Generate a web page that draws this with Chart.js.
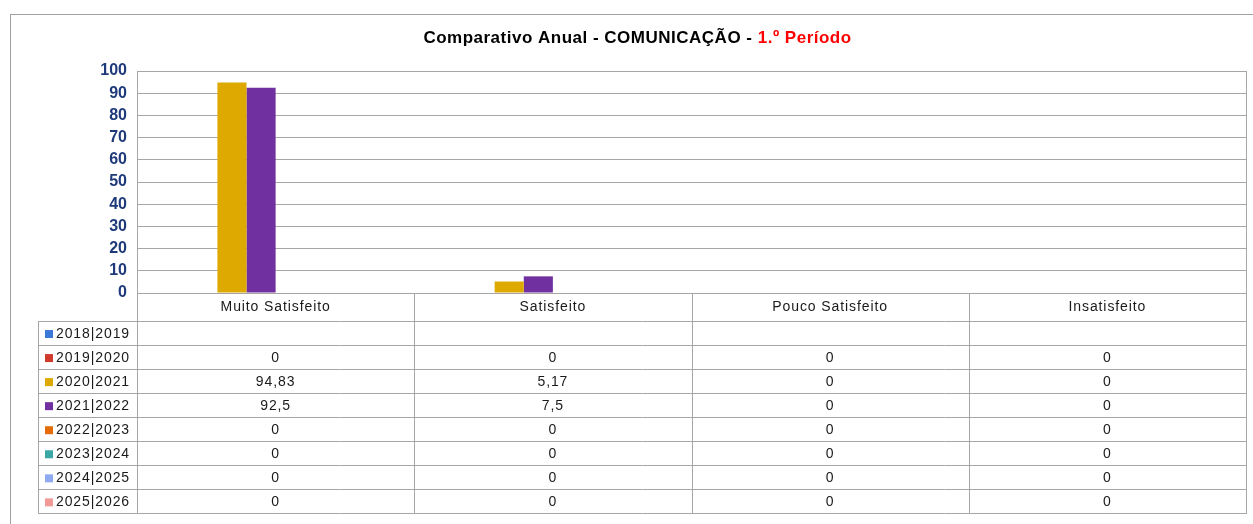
<!DOCTYPE html>
<html>
<head>
<meta charset="utf-8">
<script src="https://cdn.jsdelivr.net/npm/chart.js@4.4.0/dist/chart.umd.min.js"></script>
<style>
  html, body { margin: 0; padding: 0; background: #fff; }
  #wrap { width: 1253px; height: 524px; position: relative; }
</style>
</head>
<body>
<div id="wrap"><canvas id="mychart" width="1253" height="524"></canvas></div>
<script>
// categorias e series
const categories = ['Muito Satisfeito', 'Satisfeito', 'Pouco Satisfeito', 'Insatisfeito'];
const seriesNames = ['2018|2019', '2019|2020', '2020|2021', '2021|2022', '2022|2023', '2023|2024', '2024|2025', '2025|2026'];
const s2018 = [null, null, null, null];
const s2019 = [0, 0, 0, 0];
const s2020 = [94.83, 5.17, 0, 0];
const s2021 = [92.5, 7.5, 0, 0];
const s2022 = [0, 0, 0, 0];
const s2023 = [0, 0, 0, 0];
const s2024 = [0, 0, 0, 0];
const s2025 = [0, 0, 0, 0];
const yTicks = [0, 10, 20, 30, 40, 50, 60, 70, 80, 90, 100];

const seriesData = [s2018, s2019, s2020, s2021, s2022, s2023, s2024, s2025];
const seriesColors = ['#3c78d8', '#d0392b', '#dea900', '#7030a0', '#e36c09', '#3aa7a7', '#8faaf0', '#f09a98'];

const gridColor = '#a6a6a6';
const textFont = '"Liberation Sans", Arial, sans-serif';

function fmt(v) {
  if (v === null || v === undefined) return '';
  return String(v).replace('.', ',');
}

// desenha titulo, tabela de dados e moldura
const tablePlugin = {
  id: 'tablePlugin',
  afterDraw(chart) {
    const ctx = chart.ctx;
    const area = chart.chartArea;
    const x = chart.scales.x;
    const n = categories.length;
    const colW = (area.right - area.left) / n;
    const headTop = area.bottom;
    const rowTop = 321;
    const rowH = 24.05;
    const legendLeft = 38;
    const bottom = rowTop + rowH * seriesNames.length;

    ctx.save();
    // moldura externa
    ctx.strokeStyle = '#a0a0a0';
    ctx.lineWidth = 1;
    ctx.strokeRect(10.5, 14.5, 1300, 600);

    // titulo
    ctx.font = 'bold 17px ' + textFont;
    ctx.letterSpacing = '0.5px';
    ctx.textBaseline = 'middle';
    const t1 = 'Comparativo Anual - COMUNICAÇÃO - ';
    const t2 = '1.º Período';
    const w1 = ctx.measureText(t1).width;
    const w2 = ctx.measureText(t2).width;
    const tx = 637.5 - (w1 + w2) / 2;
    ctx.textAlign = 'left';
    ctx.fillStyle = '#000';
    ctx.fillText(t1, tx, 38);
    ctx.fillStyle = '#ff0000';
    ctx.fillText(t2, tx + w1, 38);

    // linhas da tabela
    ctx.strokeStyle = gridColor;
    ctx.beginPath();
    ctx.moveTo(area.right + 0.5, area.top);
    ctx.lineTo(area.right + 0.5, bottom);
    ctx.moveTo(area.left + 0.5, area.top);
    ctx.lineTo(area.left + 0.5, bottom);
    for (let i = 1; i < n; i++) {
      const cx = Math.round(area.left + colW * i) + 0.5;
      ctx.moveTo(cx, headTop);
      ctx.lineTo(cx, bottom);
    }
    ctx.moveTo(legendLeft + 0.5, rowTop);
    ctx.lineTo(legendLeft + 0.5, bottom);
    for (let r = 0; r <= seriesNames.length; r++) {
      const y = Math.round(rowTop + rowH * r) + 0.5;
      ctx.moveTo(legendLeft, y);
      ctx.lineTo(area.right + 1, y);
    }
    ctx.stroke();

    // textos
    ctx.font = '14px ' + textFont;
    ctx.letterSpacing = '0.9px';
    ctx.fillStyle = '#1a1a1a';
    ctx.textAlign = 'center';
    categories.forEach((c, i) => {
      ctx.fillText(c, x.getPixelForValue(i), headTop + 14);
    });
    seriesNames.forEach((name, r) => {
      const cy = rowTop + rowH * r + rowH / 2 + 1;
      ctx.fillStyle = seriesColors[r];
      ctx.fillRect(45, cy - 4, 8, 8);
      ctx.fillStyle = '#1a1a1a';
      ctx.textAlign = 'left';
      ctx.fillText(name, 56, cy);
      ctx.textAlign = 'center';
      seriesData[r].forEach((v, i) => {
        ctx.fillText(fmt(v), x.getPixelForValue(i), cy);
      });
    });
    ctx.restore();
  }
};

const canvas = document.getElementById('mychart');
const config = {
  type: 'bar',
  data: {
    labels: categories,
    datasets: seriesNames.map((name, i) => ({
      label: name,
      data: seriesData[i],
      backgroundColor: seriesColors[i],
      borderWidth: 0,
      categoryPercentage: 0.84,
      barPercentage: 1
    }))
  },
  options: {
    responsive: false,
    animation: false,
    layout: { padding: { left: 10, top: 71, right: 7, bottom: 231 } },
    plugins: {
      legend: { display: false },
      title: { display: false },
      tooltip: { enabled: false }
    },
    scales: {
      x: { display: false },
      y: {
        min: 0,
        max: 100,
        afterFit(scale) { scale.width = 127; },
        afterBuildTicks(scale) { scale.ticks = yTicks.map(v => ({ value: v })); },
        grid: { color: gridColor, drawTicks: false },
        border: { display: true, color: gridColor },
        ticks: {
          padding: 10,
          color: '#1f3a7a',
          font: { family: textFont, size: 16, weight: 'bold' }
        }
      }
    }
  },
  plugins: [tablePlugin]
};
new Chart(canvas, config);
</script>
</body>
</html>
